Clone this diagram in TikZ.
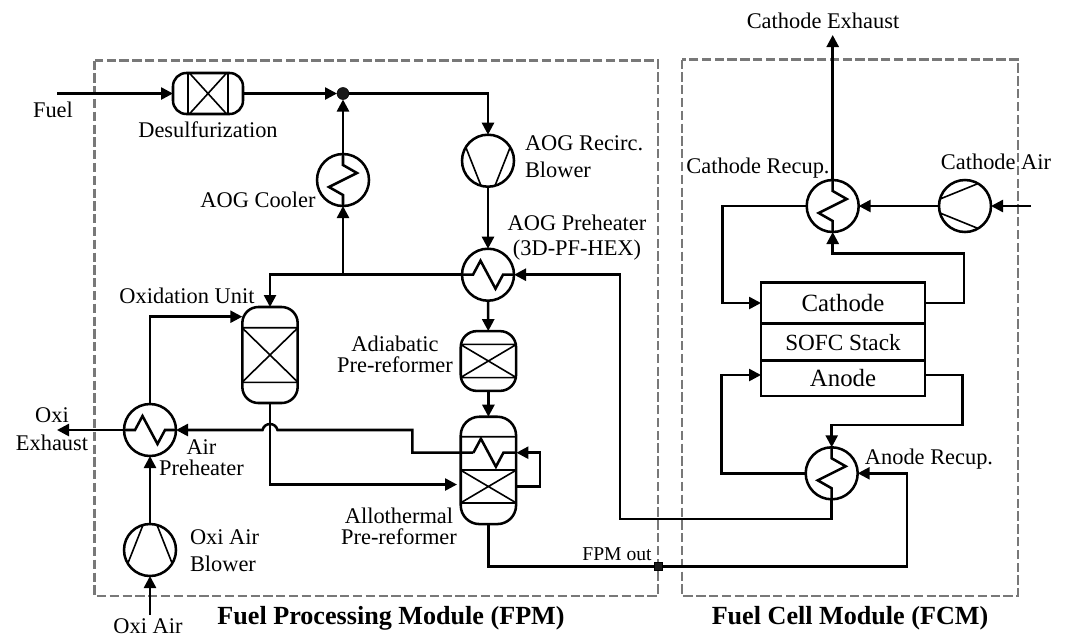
\documentclass[tikz,border=0pt]{standalone}
\usepackage{fontspec}
\setmainfont{Liberation Serif}
\usetikzlibrary{positioning,arrows.meta}
\definecolor{boxclr}{rgb}{0.47, 0.47, 0.47}
\definecolor{juncclr}{rgb}{0.1, 0.1, 0.1}
\tikzset{ %
  ,>={Triangle[length=9pt,width=9pt]}
  ,every node/.style={font=\fontsize{16.8}{19}\selectfont, align=center, inner sep=0, outer sep=0}
  ,pipe/.style={line width=1.9pt}
  ,fine/.style={line width=1.2pt, sharp corners, shift={(path picture bounding box.center)}}
  ,title/.style={font=\fontsize{19.6}{22}\selectfont\bfseries}
  ,module/.style={draw=boxclr, line width=1.6pt, dash pattern=on 7pt off 2.6pt}
  ,circ/.style={draw, circle, pipe, minimum size=39pt}
  ,hexh/.style={circ, path picture={\draw[pipe, shift={(path picture bounding box.center)}] (-27,0) -- (-15,0) -- (-7.5,-14) -- (7.5,14) -- (15,0) -- (27,0);}}
  ,hexv/.style={circ, path picture={\draw[pipe, shift={(path picture bounding box.center)}] (0,27) -- (0,15) -- (-14,7) -- (14,-7) -- (0,-15) -- (0,-27);}}
  ,blowleft/.style={circ, path picture={\draw[fine] (12,-22) -- (-25,-7) (12,22) -- (-25,7);}}
  ,blowup/.style={circ, path picture={\draw[fine] (-7,-25) -- (-22,13) (7,-25) -- (22,13);}}
  ,blowdown/.style={circ, path picture={\draw[fine] (-7,25) -- (-22,-13) (7,25) -- (22,-13);}}
  ,column/.style={draw, pipe, rounded corners=12pt, minimum width=41.5pt}
  ,bed/.style={path picture={\draw[fine] (-28,-#1) -- (28,-#1) (-28,#1) -- (28,#1) (-28,-#1) -- (28,#1) (-28,#1) -- (28,-#1);}}
  ,cell/.style={draw, pipe, minimum width=123pt, font=\fontsize{18.6}{19}\selectfont}
}

\begin{document}
\begin{tikzpicture}[x=0.75pt, y=-0.75pt]
  \useasboundingbox (0,0) rectangle (1067,637);
  \draw[module] (94.5,60.5) rectangle (658,595.7);
  \draw[module] (682,59.5) rectangle (1018,595.7);

  % equipment
  \node[draw, pipe, rounded corners=10pt, minimum width=52.5pt, minimum height=30.75pt,
    path picture={\draw[fine] (-20,-22) -- (-20,22) (20,-22) -- (20,22) (-20,-22) -- (20,22) (-20,22) -- (20,-22);}]
    (desulf) at (208,93.5) {};
  \node[draw, circle, fill=juncclr, minimum size=9pt] (junc) at (343,93.5) {};
  \node[hexv] (coolAOG) at (343,180) {};
  \node[blowdown] (blowAOG) at (488,160.7) {};
  \node[hexh] (hexAOG) at (488,274.7) {};
  \node[column, bed=27.3, minimum height=72pt] (oxiUnit) at (270,355) {};
  \node[hexh] (hexAir) at (150,430) {};
  \node[blowup] (blowOxi) at (150,550) {};
  \node[column, bed=16.6, minimum height=44.8pt] (adiab) at (488.4,361) {};
  \node[column, rounded corners=14pt, minimum height=80.5pt,
    path picture={\draw[fine] (-28,-33.7) -- (28,-33.7) (-28,-0.4) -- (28,-0.4) (-28,32.6) -- (28,32.6) (-28,-0.4) -- (28,32.6) (-28,32.6) -- (28,-0.4);
      \draw[pipe, sharp corners, shift={(path picture bounding box.center)}] (-15,-17.7) -- (-7.5,-31.7) -- (7.5,-3.7) -- (15,-17.7) -- (28,-17.7);}]
    (allo) at (488.4,470.4) {};
  \node[hexv] (recCat) at (832.7,206) {};
  \node[blowleft] (blowCat) at (965,206) {};
  \node[hexv] (recAn) at (831.7,473.3) {};
  \node[cell, minimum height=31pt] (cellCat) at (843,303) {Cathode};
  \node[cell, minimum height=27.75pt, below=0pt of cellCat, font=\fontsize{17.4}{19}\selectfont] (cellStack) {SOFC Stack};
  \node[cell, minimum height=26.5pt, below=0pt of cellStack] (cellAn) {Anode};
  \node[draw, fill=juncclr, minimum size=6pt] (sqOut) at (658.5,566.7) {};

  % free ends and turns
  \coordinate (fuelIn) at (57,93.5);
  \coordinate (oxiOut) at (57,430);
  \coordinate (oxiIn) at (150,615);
  \coordinate (catOut) at (832.7,35);
  \coordinate (catIn) at (1031,206);
  \coordinate (oxiSide) at (242.3,316.7);
  \coordinate (bedIn) at (457,484.5);
  \coordinate (coilIn) at (473.4,452.7);
  \coordinate (coilOut) at (516.4,452.7);
  \coordinate (bedOut) at (516.4,486.7);
  \coordinate (cellAnIn) at (761,375);
  \coordinate (cellAnOut) at (925,375);
  \coordinate (hexTurn) at (620,519);
  \coordinate (recTurn) at (907,473.3);

  % process lines
  \path[->, pipe] (fuelIn) edge (desulf) (desulf) edge (junc) (coolAOG) edge (junc)
    (blowAOG) edge (hexAOG) (hexAOG) edge (adiab) (adiab) edge (allo)
    (blowOxi) edge (hexAir) (oxiIn) edge (blowOxi) (hexAir) edge (oxiOut)
    (blowCat) edge (recCat) (catIn) edge (blowCat) (recCat) edge (catOut);
  \draw[->, pipe] (junc) -| (blowAOG);
  \draw[->, pipe] (hexAOG) -| (oxiUnit);
  \draw[->, pipe] (coolAOG |- hexAOG) -- (coolAOG);
  \draw[->, pipe] (hexAir) |- (oxiSide);
  \draw[->, pipe] (oxiUnit) |- (bedIn);
  \draw[->, pipe] (coilIn) -- (412.3,452.7) -- (412.3,430) -- (277.5,430)
    .. controls (275.5,422) and (264.5,422) .. (262.5,430) -- (hexAir);
  \draw[->, pipe] (bedOut) -- (540,486.7) -- (540,452.7) -- (coilOut);
  \draw[->, pipe] (recCat) -| (722.7,303) -- (cellCat);
  \draw[->, pipe] (cellCat) -| (964,253.3) -| (recCat);
  \draw[->, pipe] (cellAnOut) -| (962.7,425) -| (recAn);
  \draw[->, pipe] (recAn) -| (721.7,375) -- (cellAnIn);
  \draw[->, pipe] (recAn) |- (hexTurn) |- (hexAOG);
  \draw[pipe] (allo) |- (sqOut);
  \draw[->, pipe] (sqOut) -| (recTurn) -- (recAn);

  % labels
  \node (fuelLbl) at (53,110) {Fuel};
  \node[below=6pt of desulf] (desulfLbl) {Desulfurization};
  \node (coolLbl) at (258,200) {AOG Cooler};
  \node (oxiLbl) at (187,296) {Oxidation Unit};
  \node[align=left, anchor=west] (blowAOGLbl) at (525,157) {AOG Recirc.\\[1pt]Blower};
  \node (hexAOGLbl) at (577,237.5) {AOG Preheater\\(3D-PF-HEX)};
  \node (adiabLbl) at (395,354) {Adiabatic\\[-3pt]Pre-reformer};
  \node (alloLbl) at (399,526) {Allothermal\\[-3pt]Pre-reformer};
  \node (exhLbl) at (52,429) {Oxi\\[2pt]Exhaust};
  \node (hexAirLbl) at (201.5,458) {Air\\[-3pt]Preheater};
  \node[align=left, anchor=west] (blowOxiLbl) at (190,551) {Oxi Air\\[1pt]Blower};
  \node (oxiInLbl) at (148,626) {Oxi Air};
  \node[font=\fontsize{14.7}{17}\selectfont] (outLbl) at (617,554) {FPM out};
  \node (catOutLbl) at (823,20.7) {Cathode Exhaust};
  \node (recCatLbl) at (758,167.7) {Cathode Recup.};
  \node (catInLbl) at (996,162) {Cathode Air};
  \node (recAnLbl) at (929,459) {Anode Recup.};
  \node[title] (fpmLbl) at (391,618.5) {Fuel Processing Module (FPM)};
  \node[title] (fcmLbl) at (850,618.5) {Fuel Cell Module (FCM)};
\end{tikzpicture}
\end{document}
